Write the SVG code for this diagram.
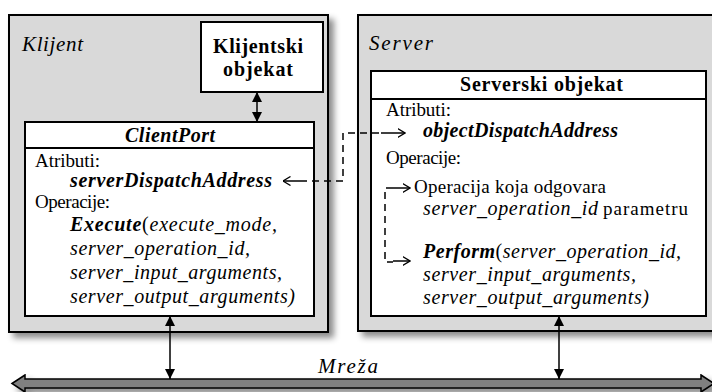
<svg xmlns="http://www.w3.org/2000/svg" width="712" height="392" viewBox="0 0 712 392" font-family="'Liberation Serif', 'Times New Roman', Times, serif">
<defs>
<filter id="sh" x="-5%" y="-5%" width="115%" height="115%"><feDropShadow dx="5" dy="5" stdDeviation="3" flood-color="#000" flood-opacity="0.45"/></filter>
<marker id="fa" viewBox="0 0 10 10" refX="10" refY="5" markerWidth="10" markerHeight="10" markerUnits="userSpaceOnUse" orient="auto-start-reverse"><path d="M0,0 L10,5 L0,10 Z" fill="#000"/></marker>
<marker id="oa" viewBox="0 0 8 10" refX="7.5" refY="5" markerWidth="8" markerHeight="10" markerUnits="userSpaceOnUse" orient="auto"><path d="M0,0.5 L7.5,5 L0,9.5" fill="none" stroke="#000" stroke-width="1.3"/></marker>
</defs>
<style>
.r{font-size:19px}
.i{font-size:20px;font-style:italic}
.bi{font-size:20px;font-style:italic;font-weight:bold}
.hd{font-size:20px;font-weight:bold}
.ttl{font-size:21px;font-style:italic}
.panel{fill:#d9d9d9;stroke:#000;stroke-width:2}
.box{fill:#fff;stroke:#000;stroke-width:2}
.dash{fill:none;stroke:#000;stroke-width:1.5;stroke-dasharray:7 5}
.conn{fill:none;stroke:#000;stroke-width:1.5}
</style>

<g id="klijent">
<rect class="panel" x="9" y="15" width="319" height="317" filter="url(#sh)"/>
<text class="ttl" x="22" y="51" textLength="61" lengthAdjust="spacing">Klijent</text>
</g>

<g id="server">
<rect class="panel" x="358" y="15" width="370" height="316" filter="url(#sh)"/>
<text class="ttl" x="369" y="50" textLength="64" lengthAdjust="spacing">Server</text>
</g>

<g id="klijentski-objekat">
<rect class="box" x="201" y="22" width="122" height="70"/>
<text class="hd" x="213" y="53" textLength="90" lengthAdjust="spacing">Klijentski</text>
<text class="hd" x="223" y="76" textLength="70" lengthAdjust="spacing">objekat</text>
</g>

<g id="clientport">
<rect class="box" x="25" y="122" width="289" height="194"/>
<line x1="25" y1="148" x2="314" y2="148" stroke="#000" stroke-width="2"/>
<text class="bi" x="125" y="142" textLength="90" lengthAdjust="spacing">ClientPort</text>
<text class="r" x="35" y="167" textLength="65" lengthAdjust="spacing">Atributi:</text>
<text class="bi" x="70" y="187" textLength="202" lengthAdjust="spacing">serverDispatchAddress</text>
<text class="r" x="35" y="208" textLength="75" lengthAdjust="spacing">Operacije:</text>
<text class="i" x="70" y="231" textLength="207" lengthAdjust="spacing"><tspan font-weight="bold">Execute</tspan><tspan font-style="normal">(</tspan>execute_mode,</text>
<text class="i" x="70" y="255" textLength="180" lengthAdjust="spacing">server_operation_id,</text>
<text class="i" x="70" y="279" textLength="212" lengthAdjust="spacing">server_input_arguments,</text>
<text class="i" x="70" y="303" textLength="225" lengthAdjust="spacing">server_output_arguments)</text>
</g>

<g id="serverski-objekat">
<rect class="box" x="371" y="71" width="335" height="245"/>
<line x1="371" y1="99" x2="706" y2="99" stroke="#000" stroke-width="2"/>
<text class="hd" x="460" y="91" textLength="163" lengthAdjust="spacing">Serverski objekat</text>
<text class="r" x="386" y="116" textLength="65" lengthAdjust="spacing">Atributi:</text>
<text class="bi" x="423" y="137" textLength="195" lengthAdjust="spacing">objectDispatchAddress</text>
<text class="r" x="386" y="164" textLength="75" lengthAdjust="spacing">Operacije:</text>
<text class="r" x="414" y="193" textLength="192" lengthAdjust="spacing">Operacija koja odgovara</text>
<text class="i" x="423" y="215" textLength="175" lengthAdjust="spacing">server_operation_id</text>
<text class="r" x="603" y="215" textLength="85" lengthAdjust="spacing">parametru</text>
<text class="i" x="423" y="258" textLength="258" lengthAdjust="spacing"><tspan font-weight="bold">Perform</tspan><tspan font-style="normal">(</tspan>server_operation_id,</text>
<text class="i" x="423" y="281" textLength="213" lengthAdjust="spacing">server_input_arguments,</text>
<text class="i" x="423" y="304" textLength="226" lengthAdjust="spacing">server_output_arguments)</text>
</g>

<g id="mreza">
<path d="M12,383.5 L25,375 V379 H701 V375 L714,383.5 L701,392 V388 H25 V392 Z" fill="#808080" stroke="#000" stroke-width="1.5" filter="url(#sh)"/>
<text class="ttl" x="318" y="373" textLength="60" lengthAdjust="spacing">Mreža</text>
</g>

<g id="connectors">
<line class="conn" x1="257" y1="92" x2="257" y2="122" marker-start="url(#fa)" marker-end="url(#fa)"/>
<line class="conn" x1="170" y1="316" x2="170" y2="379" marker-start="url(#fa)" marker-end="url(#fa)"/>
<line class="conn" x1="559" y1="316" x2="559" y2="379" marker-start="url(#fa)" marker-end="url(#fa)"/>
<path class="dash" d="M300,181 H343 V133 H381"/>
<line class="conn" x1="300" y1="181" x2="283" y2="181" marker-end="url(#oa)"/>
<line class="conn" x1="381" y1="133" x2="405" y2="133" marker-end="url(#oa)"/>
<path class="dash" d="M393,188 H385 V262 H393"/>
<line class="conn" x1="393" y1="188" x2="410" y2="188" marker-end="url(#oa)"/>
<line class="conn" x1="393" y1="261" x2="410" y2="261" marker-end="url(#oa)"/>
</g>
</svg>
